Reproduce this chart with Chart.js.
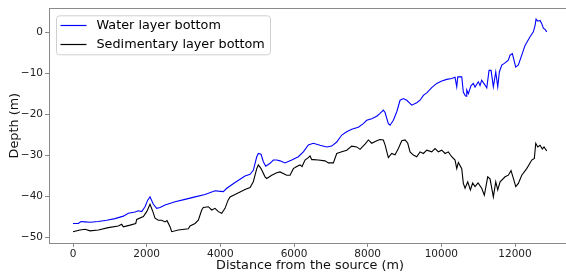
<!DOCTYPE html>
<html><head><meta charset="utf-8">
<script src="https://cdn.jsdelivr.net/npm/chart.js@4/dist/chart.umd.min.js"></script>
<style>
html,body{margin:0;padding:0;overflow:hidden;background:#fff;width:566px;height:274px}
#wrap{position:relative;width:580px;height:274px}
</style>
</head><body><div id="wrap"><canvas id="c" width="580" height="274"></canvas></div>
<script>
const seriesLabels = ['Water layer bottom', 'Sedimentary layer bottom'];
const xTickValues = [0, 2000, 4000, 6000, 8000, 10000, 12000];
const yTickValues = [-50, -40, -30, -20, -10, 0];

const waterDistance = [0,144,217,326,462,687,915,1140,1366,1501,1683,1773,1865,1955,2028,2091,2180,2273,2362,2498,2770,3041,3313,3584,3856,3945,4081,4173,4399,4670,4806,4895,4988,5031,5105,5167,5232,5349,5439,5531,5621,5756,5938,6117,6253,6389,6525,6707,6888,7024,7160,7296,7431,7567,7746,7882,7974,8110,8246,8336,8425,8472,8561,8607,8697,8790,8879,8969,9061,9197,9332,9422,9512,9604,9739,9875,10011,10147,10282,10372,10418,10446,10554,10597,10644,10671,10690,10733,10806,10869,10915,11004,11050,11096,11186,11233,11295,11350,11412,11477,11531,11575,11640,11711,11819,11865,11928,11982,12020,12091,12183,12273,12408,12498,12545,12571,12617,12680,12726,12770,12816,12862];
const waterDepth = [-46.7,-46.7,-46.2,-46.3,-46.4,-46.2,-45.9,-45.5,-44.9,-44.2,-43.9,-43.6,-43.8,-42.6,-41.0,-40.2,-42.0,-43.0,-42.8,-42.2,-41.4,-40.8,-40.2,-39.6,-38.7,-38.8,-38.9,-38.1,-36.7,-35.1,-34.7,-33.7,-30.4,-29.6,-29.8,-31.6,-32.7,-32.0,-31.2,-31.2,-31.4,-31.9,-31.2,-30.4,-29.2,-27.5,-27.1,-27.6,-28.0,-27.8,-26.8,-25.1,-24.3,-23.7,-23.2,-22.3,-21.5,-21.1,-20.5,-19.8,-19.0,-19.6,-22.3,-22.7,-21.5,-19.4,-16.6,-16.2,-16.6,-17.8,-17.2,-16.6,-15.4,-14.8,-13.5,-12.5,-11.9,-11.5,-11.3,-11.0,-13.3,-10.9,-10.9,-14.6,-15.4,-15.6,-14.1,-15.0,-13.0,-12.5,-13.4,-12.1,-13.0,-11.7,-12.9,-13.6,-9.3,-9.3,-13.3,-9.7,-13.3,-9.7,-8.0,-7.6,-6.8,-5.6,-5.2,-7.2,-8.5,-8.0,-5.6,-3.2,-1.1,0.1,1.7,3.2,2.7,2.9,2.1,1.0,0.7,0.1];

const sedimentDistance = [0,190,326,462,687,958,1230,1322,1366,1548,1702,1730,1909,2001,2091,2180,2226,2316,2408,2498,2552,2634,2680,2859,3131,3177,3313,3402,3494,3538,3674,3766,3856,3945,4037,4127,4210,4263,4399,4670,4806,4895,4988,5031,5105,5213,5259,5395,5531,5621,5802,5892,5982,6074,6163,6217,6299,6389,6435,6481,6525,6660,6842,6932,7068,7160,7296,7431,7567,7703,7793,7928,8018,8110,8246,8336,8425,8472,8561,8653,8743,8833,8925,9015,9088,9150,9240,9332,9422,9512,9604,9739,9829,9919,10011,10101,10190,10282,10372,10418,10462,10554,10597,10644,10717,10788,10850,10915,10996,11096,11167,11259,11322,11412,11477,11531,11594,11730,11819,11892,11955,12020,12091,12183,12318,12454,12525,12563,12617,12680,12742,12788,12862];
const sedimentDepth = [-48.7,-48.3,-48.1,-48.5,-48.3,-47.7,-47.3,-46.9,-47.5,-47.1,-46.7,-45.7,-45.0,-43.8,-42.0,-44.1,-45.4,-45.9,-45.9,-46.3,-46.0,-47.5,-48.7,-48.3,-48.0,-47.3,-46.7,-45.9,-43.4,-42.8,-42.6,-43.4,-43.0,-43.8,-44.2,-43.0,-41.0,-40.2,-39.6,-38.4,-37.9,-36.5,-33.3,-32.4,-33.3,-35.3,-35.7,-34.9,-34.3,-34.1,-34.9,-34.9,-33.3,-32.8,-32.4,-32.8,-31.2,-30.6,-30.2,-31.1,-31.1,-31.2,-31.4,-31.9,-31.9,-29.6,-29.2,-28.8,-27.8,-28.0,-28.6,-27.3,-26.3,-27.1,-26.5,-26.2,-26.3,-27.5,-30.6,-29.6,-29.9,-28.4,-26.5,-26.3,-27.1,-29.2,-30.0,-30.4,-29.2,-29.6,-28.8,-29.2,-28.4,-29.2,-28.8,-29.6,-29.2,-30.4,-31.2,-33.3,-31.8,-33.3,-36.9,-38.1,-36.5,-38.5,-36.8,-37.7,-36.8,-38.1,-39.8,-35.3,-35.8,-40.2,-36.5,-38.5,-36.5,-35.3,-34.9,-33.8,-35.7,-37.7,-36.9,-34.9,-33.3,-31.2,-30.8,-27.1,-28.0,-27.6,-28.5,-28.0,-29.0];

const toPoints = (xs, ys) => xs.map((x, i) => ({x: x, y: ys[i]}));
const fmt = v => (v < 0 ? '\u2212' + Math.abs(v) : String(v));
const FONT = 'DejaVu Sans';
const SPINE = '#8a8a8a';
const LABEL_SIZE = 12.8;

const framePlugin = {
  id: 'frame',
  afterDraw(chart) {
    const {ctx, chartArea: a} = chart;
    ctx.save();
    ctx.strokeStyle = SPINE;
    ctx.lineWidth = 1;
    ctx.strokeRect(Math.round(a.left) + 0.5, Math.round(a.top) + 0.5, Math.round(a.right - a.left), Math.round(a.bottom - a.top));
    ctx.restore();
  }
};

const legendPlugin = {
  id: 'innerLegend',
  afterDraw(chart) {
    const {ctx, chartArea: a} = chart;
    const x0 = a.left + 7.5, y0 = a.top + 7.5, w = 214, h = 39, r = 3;
    ctx.save();
    ctx.beginPath();
    ctx.moveTo(x0 + r, y0);
    ctx.arcTo(x0 + w, y0, x0 + w, y0 + h, r);
    ctx.arcTo(x0 + w, y0 + h, x0, y0 + h, r);
    ctx.arcTo(x0, y0 + h, x0, y0, r);
    ctx.arcTo(x0, y0, x0 + w, y0, r);
    ctx.closePath();
    ctx.fillStyle = 'rgba(255,255,255,0.8)';
    ctx.fill();
    ctx.strokeStyle = '#d0d0d0';
    ctx.lineWidth = 1;
    ctx.stroke();
    ctx.font = LABEL_SIZE + 'px "' + FONT + '"';
    ctx.textBaseline = 'middle';
    ctx.fillStyle = '#000';
    chart.data.datasets.forEach((ds, i) => {
      const y = Math.round(y0 + 9 + i * 19) + 0.5;
      ctx.strokeStyle = ds.borderColor;
      ctx.lineWidth = 1.2;
      ctx.beginPath();
      ctx.moveTo(x0 + 4, y);
      ctx.lineTo(x0 + 30, y);
      ctx.stroke();
      ctx.fillText(ds.label, x0 + 40, y);
    });
    ctx.restore();
  }
};

new Chart(document.getElementById('c'), {
  type: 'line',
  data: {
    datasets: [
      {label: seriesLabels[0], data: toPoints(waterDistance, waterDepth), borderColor: '#0000ff', borderWidth: 1.1, pointRadius: 0, tension: 0, fill: false},
      {label: seriesLabels[1], data: toPoints(sedimentDistance, sedimentDepth), borderColor: '#000000', borderWidth: 1.1, pointRadius: 0, tension: 0, fill: false}
    ]
  },
  options: {
    responsive: false,
    animation: false,
    devicePixelRatio: 1,
    layout: {padding: {left: 0, top: 8, right: 9, bottom: 0}},
    plugins: {legend: {display: false}, tooltip: {enabled: false}},
    scales: {
      x: {
        type: 'linear', min: -652, max: 13520,
        afterBuildTicks: s => { s.ticks = xTickValues.map(v => ({value: v})); },
        afterFit: s => { s.height = 31; },
        grid: {display: true, drawOnChartArea: false, drawTicks: true, tickLength: 4, color: SPINE},
        border: {display: true, color: SPINE},
        ticks: {font: {family: FONT, size: 10.5}, color: '#222', padding: 1, maxRotation: 0, callback: v => fmt(v)},
        title: {display: true, text: 'Distance from the source (m)', font: {family: FONT, size: LABEL_SIZE}, color: '#111', padding: {top: 0, bottom: 1}}
      },
      y: {
        type: 'linear', min: -51.46, max: 5.85,
        afterBuildTicks: s => { s.ticks = yTickValues.map(v => ({value: v})); },
        afterFit: s => { s.width = 49; },
        grid: {display: true, drawOnChartArea: false, drawTicks: true, tickLength: 4, color: SPINE},
        border: {display: true, color: SPINE},
        ticks: {font: {family: FONT, size: 10.5}, color: '#222', padding: 2, callback: v => fmt(v)},
        title: {display: true, text: 'Depth (m)', font: {family: FONT, size: LABEL_SIZE}, color: '#111', padding: {top: 6.5, bottom: 0}}
      }
    }
  },
  plugins: [framePlugin, legendPlugin]
});
</script>
</body></html>
